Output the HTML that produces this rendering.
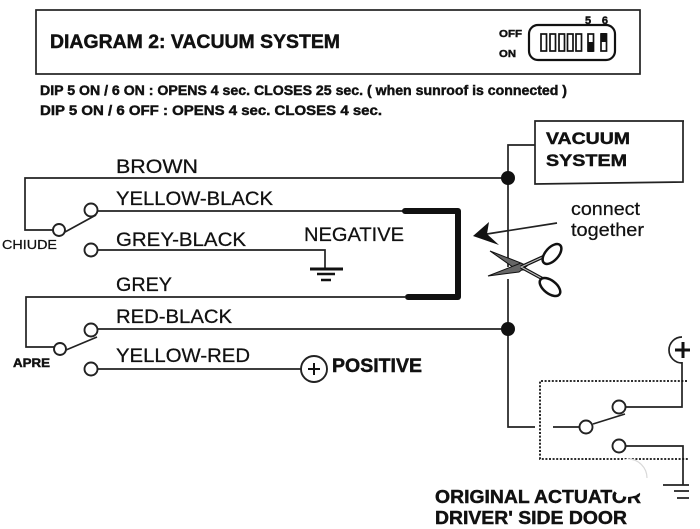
<!DOCTYPE html>
<html><head><meta charset="utf-8"><style>
html,body{margin:0;padding:0;background:#fff}
svg{display:block}
text{font-family:"Liberation Sans",sans-serif;fill:#111;stroke:#111;stroke-width:.25}
.w{stroke:#222;stroke-width:1.7;fill:none}
.c{stroke:#222;stroke-width:1.9;fill:#fff}
.b{font-weight:bold;stroke-width:.45}
</style></head><body>
<svg width="700" height="529" viewBox="0 0 700 529" xmlns="http://www.w3.org/2000/svg">
<rect width="700" height="529" fill="#fff"/>
<rect x="36" y="10" width="604" height="64" class="w"/>
<text x="50" y="48" class="b" font-size="19" textLength="290" lengthAdjust="spacingAndGlyphs">DIAGRAM 2: VACUUM SYSTEM</text>
<text x="499" y="37" font-size="10.5" class="b" textLength="23" lengthAdjust="spacingAndGlyphs">OFF</text>
<text x="499" y="57" font-size="10.5" class="b" textLength="17" lengthAdjust="spacingAndGlyphs">ON</text>
<text x="585" y="24" font-size="11" class="b" textLength="23" lengthAdjust="spacing">5 6</text>
<rect x="529" y="25" width="86" height="35" rx="9" fill="none" stroke="#111" stroke-width="2.2"/>
<g fill="none" stroke="#111" stroke-width="1.7">
<rect x="541" y="34" width="5.5" height="17"/><rect x="550" y="34" width="5.5" height="17"/><rect x="559" y="34" width="5.5" height="17"/><rect x="567.5" y="34" width="5.5" height="17"/><rect x="576" y="34" width="5.5" height="17"/><rect x="588" y="34" width="5.5" height="17"/><rect x="601" y="34" width="5.5" height="17"/>
</g>
<rect x="588" y="42" width="5.5" height="10" fill="#111"/>
<rect x="601" y="33" width="5.5" height="9" fill="#111"/>
<text x="40" y="95" class="b" font-size="13.5" textLength="527" lengthAdjust="spacingAndGlyphs">DIP 5 ON / 6 ON  : OPENS 4 sec. CLOSES  25 sec. ( when sunroof is connected )</text>
<text x="40" y="115" class="b" font-size="13.5" textLength="342" lengthAdjust="spacingAndGlyphs">DIP 5 ON / 6 OFF : OPENS 4 sec.  CLOSES  4 sec.</text>

<path class="w" d="M684 121H535V184L683 182V121"/>
<text x="546" y="144" class="b" font-size="17" textLength="84" lengthAdjust="spacingAndGlyphs">VACUUM</text>
<text x="546" y="166" class="b" font-size="17" textLength="81" lengthAdjust="spacingAndGlyphs">SYSTEM</text>

<path class="w" d="M535 145H508V267M508 279V427H535M553 427H579"/>
<path class="w" d="M508 178H25V230H53M97 211H405M97 250H325V268M508 329H97M405 297H26V347H54M97 369H301"/>
<path class="w" d="M65 232L96 215M66 350L97 337M593 424L625 414"/>
<path d="M405 211H458V297H408" fill="none" stroke="#111" stroke-width="6" stroke-linejoin="round" stroke-linecap="round"/>
<circle cx="508" cy="178" r="7" fill="#111"/><circle cx="508" cy="329" r="7" fill="#111"/>
<circle cx="59" cy="230" r="6" class="c"/><circle cx="91" cy="210" r="6.5" class="c"/><circle cx="91" cy="250" r="6.5" class="c"/>
<circle cx="60" cy="349" r="6" class="c"/><circle cx="91" cy="330" r="6.5" class="c"/><circle cx="91" cy="369" r="6.5" class="c"/>
<circle cx="314" cy="369" r="13" class="c"/><path d="M308 369H320M314 363V375" stroke="#111" stroke-width="2"/>
<path d="M310 269H343" stroke="#111" stroke-width="3"/><path d="M317 274H335" stroke="#111" stroke-width="2.5"/><path d="M321 280H331" stroke="#111" stroke-width="2.5"/>

<g font-size="19">
<text x="116" y="173" textLength="82" lengthAdjust="spacingAndGlyphs">BROWN</text>
<text x="116" y="205" textLength="157" lengthAdjust="spacingAndGlyphs">YELLOW-BLACK</text>
<text x="116" y="246" textLength="130" lengthAdjust="spacingAndGlyphs">GREY-BLACK</text>
<text x="304" y="241" textLength="100" lengthAdjust="spacingAndGlyphs">NEGATIVE</text>
<text x="116" y="291" textLength="56" lengthAdjust="spacingAndGlyphs">GREY</text>
<text x="116" y="323" textLength="116" lengthAdjust="spacingAndGlyphs">RED-BLACK</text>
<text x="116" y="362" textLength="134" lengthAdjust="spacingAndGlyphs">YELLOW-RED</text>
</g>
<text x="2" y="249" font-size="12.5" textLength="55" lengthAdjust="spacingAndGlyphs">CHIUDE</text>
<text x="13" y="367" font-size="12" class="b" textLength="37" lengthAdjust="spacingAndGlyphs">APRE</text>
<text x="332" y="372" class="b" font-size="19" textLength="90" lengthAdjust="spacingAndGlyphs">POSITIVE</text>

<text x="571" y="215" font-size="18" textLength="69" lengthAdjust="spacingAndGlyphs">connect</text>
<text x="571" y="236" font-size="18" textLength="73" lengthAdjust="spacingAndGlyphs">together</text>
<path class="w" d="M557 223L487 234"/>
<path d="M473 236L489 222L487 234L499 245Z" fill="#111"/>

<path d="M490 251L521 263L526 270L517 270Z" fill="#666" stroke="#111" stroke-width="1"/>
<path d="M488 276L521 263L527 266L519 272Z" fill="#666" stroke="#111" stroke-width="1"/>
<path d="M521 267L543 279M521 267L545 256" stroke="#111" stroke-width="3.5"/>
<path d="M521 267L543 279M521 267L545 256" stroke="#bbb" stroke-width="1.2"/>
<ellipse cx="552" cy="254" rx="12" ry="6.5" transform="rotate(-48 552 254)" fill="#fff" stroke="#111" stroke-width="2.5"/>
<ellipse cx="550" cy="287" rx="12" ry="6.5" transform="rotate(38 550 287)" fill="#fff" stroke="#111" stroke-width="2.5"/>

<path d="M682 337A13 13 0 0 0 682 363" class="w"/>
<path d="M675 350H690M683 342V358" stroke="#111" stroke-width="3"/>
<path class="w" d="M682 362V407H626M626 446H683V485"/>
<path d="M687 381H540V459H688" fill="none" stroke="#111" stroke-width="1.8" stroke-dasharray="2 1.6"/>
<circle cx="586" cy="427" r="6.5" class="c"/><circle cx="619" cy="407" r="6.5" class="c"/><circle cx="619" cy="446" r="6.5" class="c"/>
<path d="M663 485H689M674 491H689M677 498H689" stroke="#222" stroke-width="1.8"/>

<text x="435" y="503" class="b" font-size="18.5" textLength="206" lengthAdjust="spacingAndGlyphs">ORIGINAL ACTUATOR</text>
<text x="435" y="524" class="b" font-size="18.5" textLength="192" lengthAdjust="spacingAndGlyphs">DRIVER' SIDE DOOR</text>
<circle cx="628" cy="478" r="19" fill="#fff"/>
<path d="M628 459A19 19 0 0 1 647 478" fill="none" stroke="#d8d8d8" stroke-width="1.2"/>
</svg>
</body></html>
